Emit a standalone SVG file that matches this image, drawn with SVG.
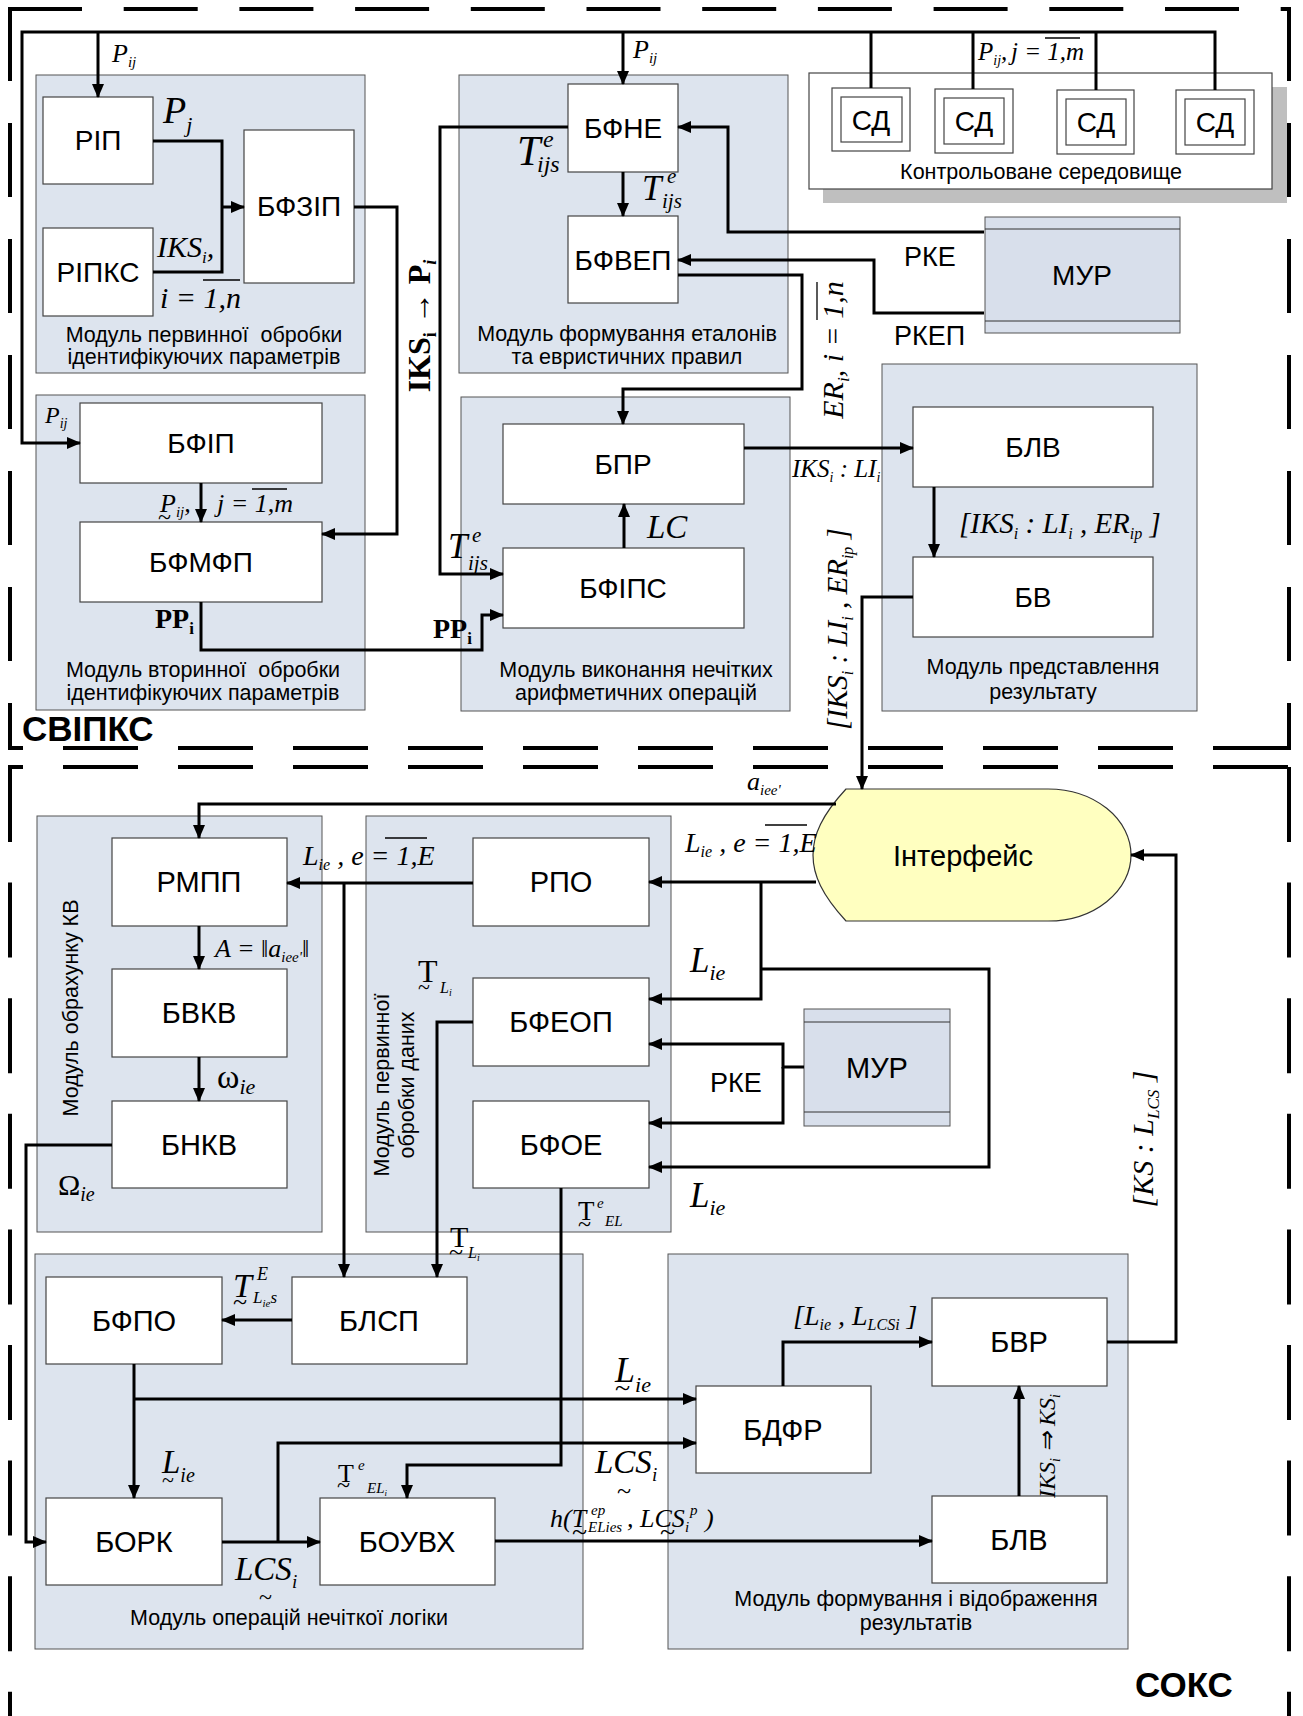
<svg xmlns="http://www.w3.org/2000/svg" width="1303" height="1716" viewBox="0 0 1303 1716">
<defs>
<marker id="ah" markerUnits="userSpaceOnUse" markerWidth="14" markerHeight="12" refX="13" refY="6" orient="auto"><path d="M0,0 L14,6 L0,12 z" fill="#000"/></marker>
</defs>
<style>
.bd{stroke:#000;stroke-width:4;fill:none}
.mod{fill:#dde4ee;stroke:#555;stroke-width:1}
.box{fill:#fff;stroke:#444;stroke-width:1.2}
.mur{fill:#d8dfeb;stroke:#555;stroke-width:1}
.c{fill:none;stroke:#000;stroke-width:3}
.a{marker-end:url(#ah)}
.t{font-family:"Liberation Sans",Arial,sans-serif;text-anchor:middle;fill:#000}
.b28{font-size:28px}
.b29{font-size:29px}
.lab{font-family:"Liberation Sans",Arial,sans-serif;font-size:27px}
.cap{font-family:"Liberation Sans",Arial,sans-serif;font-size:21.5px;text-anchor:middle}
.mi{font-family:"Liberation Serif","Times New Roman",serif;font-style:italic}
.mr{font-family:"Liberation Serif","Times New Roman",serif}
.mb{font-family:"Liberation Serif","Times New Roman",serif;font-weight:bold}
.ol{stroke:#000;stroke-width:1.3}
.big{font-family:"Liberation Sans",Arial,sans-serif;font-weight:bold;font-size:35px}
</style>

<g id="borders" class="bd">
<line x1="8" y1="9" x2="1291" y2="9" stroke-dasharray="74 41.7"/>
<line x1="10" y1="7" x2="10" y2="750" stroke-dasharray="74 42"/>
<line x1="1289" y1="7" x2="1289" y2="750" stroke-dasharray="74 42"/>
<line x1="8" y1="748" x2="1291" y2="748" stroke-dasharray="75 40" stroke-dashoffset="60"/>
<line x1="8" y1="767" x2="1291" y2="767" stroke-dasharray="75 40" stroke-dashoffset="60"/>
<line x1="10" y1="767" x2="10" y2="1716" stroke-dasharray="75 40.6"/>
<line x1="1289" y1="767" x2="1289" y2="1716" stroke-dasharray="75 40.6"/>
</g>
<text class="big" x="22" y="741">СВІПКС</text>
<text class="big" x="1135" y="1697">СОКС</text>

<!-- modules -->
<g id="m1"><rect class="mod" x="36" y="75" width="329" height="298"/><text class="cap" x="204" y="342" xml:space="preserve">Модуль первинної  обробки</text><text class="cap" x="204" y="364">ідентифікуючих параметрів</text></g>
<g id="m2"><rect class="mod" x="459" y="75" width="329" height="298"/><text class="cap" x="627" y="341">Модуль формування еталонів</text><text class="cap" x="627" y="364">та евристичних правил</text></g>
<g id="m3"><rect class="mod" x="36" y="395" width="329" height="315"/><text class="cap" x="203" y="677" xml:space="preserve">Модуль вторинної  обробки</text><text class="cap" x="203" y="700">ідентифікуючих параметрів</text></g>
<g id="m4"><rect class="mod" x="461" y="397" width="329" height="314"/><text class="cap" x="636" y="677">Модуль виконання нечітких</text><text class="cap" x="636" y="700">арифметичних операцій</text></g>
<g id="m5"><rect class="mod" x="882" y="364" width="315" height="347"/><text class="cap" x="1043" y="674">Модуль представлення</text><text class="cap" x="1043" y="699">результату</text></g>
<g id="m6"><rect class="mod" x="37" y="816" width="285" height="416"/><text class="cap" transform="translate(78,1008) rotate(-90)">Модуль обрахунку КВ</text></g>
<g id="m7"><rect class="mod" x="366" y="816" width="305" height="416"/><text class="cap" transform="translate(389,1085) rotate(-90)">Модуль первинної</text><text class="cap" transform="translate(414,1085) rotate(-90)">обробки даних</text></g>
<g id="m8"><rect class="mod" x="35" y="1254" width="548" height="395"/><text class="cap" x="289" y="1625">Модуль операцій нечіткої логіки</text></g>
<g id="m9"><rect class="mod" x="668" y="1254" width="460" height="395"/><text class="cap" x="916" y="1606">Модуль формування і відображення</text><text class="cap" x="916" y="1630">результатів</text></g>

<!-- controlled environment -->
<g id="env">
<rect x="823" y="87" width="464" height="116" fill="#bfbfbf"/>
<rect x="809" y="73" width="463" height="116" fill="#fff" stroke="#444" stroke-width="1.2"/>
<text class="cap" x="1041" y="179">Контрольоване середовище</text>
</g>
<g id="sd1"><rect class="box" x="832" y="88" width="78" height="63"/><rect class="box" x="841" y="97" width="61" height="45" stroke="#222"/><text class="t b28" x="871" y="130">СД</text></g>
<g id="sd2"><rect class="box" x="935" y="89" width="78" height="64"/><rect class="box" x="944" y="98" width="60" height="46" stroke="#222"/><text class="t b28" x="974" y="131">СД</text></g>
<g id="sd3"><rect class="box" x="1057" y="90" width="77" height="64"/><rect class="box" x="1066" y="99" width="60" height="46" stroke="#222"/><text class="t b28" x="1096" y="132">СД</text></g>
<g id="sd4"><rect class="box" x="1176" y="90" width="78" height="64"/><rect class="box" x="1185" y="99" width="60" height="46" stroke="#222"/><text class="t b28" x="1215" y="132">СД</text></g>

<!-- upper blocks -->
<g id="rip"><rect class="box" x="43" y="97" width="110" height="87"/><text class="t b28" x="98" y="150">РІП</text></g>
<g id="ripks"><rect class="box" x="43" y="228" width="110" height="88"/><text class="t b28" x="98" y="282">РІПКС</text></g>
<g id="bfzip"><rect class="box" x="244" y="130" width="110" height="153"/><text class="t b28" x="299" y="216">БФЗІП</text></g>
<g id="bfne"><rect class="box" x="568" y="84" width="110" height="88"/><text class="t b28" x="623" y="138">БФНЕ</text></g>
<g id="bfvep"><rect class="box" x="568" y="216" width="110" height="87"/><text class="t b28" x="623" y="270">БФВЕП</text></g>
<g id="bfip"><rect class="box" x="80" y="403" width="242" height="80"/><text class="t b28" x="201" y="453">БФІП</text></g>
<g id="bfmfp"><rect class="box" x="80" y="522" width="242" height="80"/><text class="t b28" x="201" y="572">БФМФП</text></g>
<g id="bpr"><rect class="box" x="503" y="424" width="241" height="80"/><text class="t b28" x="623" y="474">БПР</text></g>
<g id="bfips"><rect class="box" x="503" y="548" width="241" height="80"/><text class="t b28" x="623" y="598">БФІПС</text></g>
<g id="blv1"><rect class="box" x="913" y="407" width="240" height="80"/><text class="t b28" x="1033" y="457">БЛВ</text></g>
<g id="bv"><rect class="box" x="913" y="557" width="240" height="80"/><text class="t b28" x="1033" y="607">БВ</text></g>
<g id="mur1"><rect class="mur" x="985" y="217" width="195" height="116"/><line x1="985" y1="229" x2="1180" y2="229" stroke="#333"/><line x1="985" y1="321" x2="1180" y2="321" stroke="#333"/><text class="t b28" x="1082" y="285">МУР</text></g>

<!-- lower blocks -->
<g id="interface"><path d="M846,789 H1048 A83,66 0 0 1 1131,855 A83,66 0 0 1 1048,921 H846 C822,895 813,875 813,855 C813,835 822,815 846,789 Z" fill="#ffffc0" stroke="#333" stroke-width="1.2"/><text class="t b29" x="963" y="866">Інтерфейс</text></g>
<g id="rmpp"><rect class="box" x="112" y="838" width="175" height="88"/><text class="t b29" x="199" y="892">РМПП</text></g>
<g id="bvkv"><rect class="box" x="112" y="969" width="175" height="88"/><text class="t b29" x="199" y="1023">БВКВ</text></g>
<g id="bnkv"><rect class="box" x="112" y="1101" width="175" height="87"/><text class="t b29" x="199" y="1155">БНКВ</text></g>
<g id="rpo"><rect class="box" x="473" y="838" width="176" height="88"/><text class="t b29" x="561" y="892">РПО</text></g>
<g id="bfeop"><rect class="box" x="473" y="978" width="176" height="88"/><text class="t b29" x="561" y="1032">БФЕОП</text></g>
<g id="bfoe"><rect class="box" x="473" y="1101" width="176" height="87"/><text class="t b29" x="561" y="1155">БФОЕ</text></g>
<g id="mur2"><rect class="mur" x="804" y="1009" width="146" height="117"/><line x1="804" y1="1022" x2="950" y2="1022" stroke="#333"/><line x1="804" y1="1112" x2="950" y2="1112" stroke="#333"/><text class="t b29" x="877" y="1078">МУР</text></g>
<g id="bfpo"><rect class="box" x="46" y="1277" width="176" height="87"/><text class="t b29" x="134" y="1331">БФПО</text></g>
<g id="blsp"><rect class="box" x="292" y="1277" width="175" height="87"/><text class="t b29" x="379" y="1331">БЛСП</text></g>
<g id="bork"><rect class="box" x="46" y="1498" width="176" height="87"/><text class="t b29" x="134" y="1552">БОРК</text></g>
<g id="bouvh"><rect class="box" x="320" y="1498" width="175" height="87"/><text class="t b29" x="407" y="1552">БОУВХ</text></g>
<g id="bdfr"><rect class="box" x="696" y="1386" width="175" height="87"/><text class="t b29" x="783" y="1440">БДФР</text></g>
<g id="bvr"><rect class="box" x="932" y="1298" width="175" height="88"/><text class="t b29" x="1019" y="1352">БВР</text></g>
<g id="blv2"><rect class="box" x="932" y="1496" width="175" height="87"/><text class="t b29" x="1019" y="1550">БЛВ</text></g>

<!-- connectors -->
<g id="connectors" class="c">
<path class="a" d="M1215,90 V32 H22 V443 H80"/>
<path class="a" d="M98,32 V97"/>
<path class="a" d="M623,32 V84"/>
<path d="M871,32 V88 M973,32 V89 M1096,32 V90"/>
<path d="M153,141 H222 V272 H153"/>
<path class="a" d="M222,207 H244"/>
<path class="a" d="M354,207 H397 V534 H322"/>
<path class="a" d="M568,127 H440 V574 H503"/>
<path class="a" d="M623,172 V216"/>
<path class="a" d="M984,232 H728 V127 H678"/>
<path class="a" d="M984,313 H874 V260 H678"/>
<path class="a" d="M678,275 H802 V389 H623 V424"/>
<path class="a" d="M201,483 V522"/>
<path class="a" d="M201,602 V650 H482 V615 H503"/>
<path class="a" d="M624,548 V504"/>
<path class="a" d="M744,448 H913"/>
<path class="a" d="M934,487 V557"/>
<path class="a" d="M913,597 H862 V789"/>
<path class="a" d="M836,804 H199 V838"/>
<path class="a" d="M199,926 V969"/>
<path class="a" d="M199,1057 V1101"/>
<path class="a" d="M816,882 H649"/>
<path class="a" d="M761,882 V999 H649"/>
<path class="a" d="M761,969 H989 V1167 H649"/>
<path class="a" d="M473,883 H287"/>
<path class="a" d="M344,883 V1277"/>
<path class="a" d="M804,1067 H783 V1044 H649"/>
<path class="a" d="M783,1067 V1123 H649"/>
<path class="a" d="M473,1022 H437 V1277"/>
<path class="a" d="M561,1188 V1465 H407 V1498"/>
<path class="a" d="M112,1145 H26 V1542 H46"/>
<path class="a" d="M292,1320 H222"/>
<path class="a" d="M134,1364 V1498"/>
<path class="a" d="M134,1399 H696"/>
<path class="a" d="M222,1542 H320"/>
<path class="a" d="M278,1542 V1443 H696"/>
<path class="a" d="M495,1541 H932"/>
<path class="a" d="M783,1386 V1342 H932"/>
<path class="a" d="M1019,1496 V1386"/>
<path class="a" d="M1107,1342 H1176 V855 H1131"/>
</g>

<!-- labels -->
<g id="labels" fill="#000">
<text class="mi" x="112" y="62" font-size="26">P<tspan font-size="15" dy="5">ij</tspan></text>
<text class="mi" x="163" y="123" font-size="38">P<tspan font-size="22" dy="9">j</tspan></text>
<text class="mi" x="157" y="257" font-size="30">IKS<tspan font-size="17" dy="6">i</tspan><tspan dy="-6">,</tspan></text>
<text class="mi" x="160" y="308" font-size="30">i = 1,n</text>
<line class="ol" x1="203" y1="280" x2="240" y2="280"/>
<text class="mi" x="633" y="58" font-size="26">P<tspan font-size="15" dy="5">ij</tspan></text>
<text class="mi" x="517" y="165" font-size="42">T<tspan x="543" y="147" font-size="24">e</tspan><tspan x="537" y="172" font-size="24">ijs</tspan></text>
<text class="mi" x="642" y="200" font-size="35">T<tspan x="667" y="183" font-size="21">e</tspan><tspan x="662" y="208" font-size="21">ijs</tspan></text>
<text class="mi" transform="translate(843,350) rotate(-90)" text-anchor="middle" font-size="30">ER<tspan font-size="17" dy="6">i</tspan><tspan dy="-6">, i = 1,n</tspan></text>
<line class="ol" x1="817" y1="282" x2="817" y2="320"/>
<text class="mi" x="978" y="60" font-size="25">P<tspan font-size="14" dy="5">ij</tspan><tspan dy="-5">,</tspan><tspan x="1011" y="60">j = 1,m</tspan></text>
<line class="ol" x1="1045" y1="38" x2="1080" y2="38"/>
<text class="mb" transform="translate(430,326) rotate(-90)" text-anchor="middle" font-size="32">IKS<tspan font-size="18" dy="6">i</tspan><tspan dy="-6"> → P</tspan><tspan font-size="18" dy="6" font-style="italic">i</tspan></text>
<text class="mi" x="45" y="423" font-size="24">P<tspan font-size="14" dy="5">ij</tspan></text>
<text class="mi" x="160" y="512" font-size="26">P<tspan font-size="15" dy="5">ij</tspan><tspan dy="-5">,</tspan><tspan x="158" y="525" font-size="24" font-style="normal">~</tspan><tspan x="217" y="512">j = 1,m</tspan></text>
<line class="ol" x1="252" y1="489" x2="287" y2="489"/>
<text class="mb" x="155" y="628" font-size="28">PP<tspan font-size="17" dy="6">i</tspan></text>
<text class="mb" x="433" y="638" font-size="28">PP<tspan font-size="17" dy="6">i</tspan></text>
<text class="mi" x="448" y="558" font-size="35">T<tspan x="472" y="542" font-size="21">e</tspan><tspan x="468" y="570" font-size="21">ijs</tspan></text>
<text class="mi" x="647" y="538" font-size="33">LC</text>
<text class="mi" x="792" y="477" font-size="25">IKS<tspan font-size="14" dy="5">i</tspan><tspan dy="-5"> : LI</tspan><tspan font-size="14" dy="5">i</tspan></text>
<text class="mi" x="959" y="533" font-size="29">[IKS<tspan font-size="16" dy="6">i</tspan><tspan dy="-6"> : LI</tspan><tspan font-size="16" dy="6">i</tspan><tspan dy="-6"> , ER</tspan><tspan font-size="16" dy="6">ip</tspan><tspan dy="-6"> ]</tspan></text>
<text class="mi" transform="translate(847,629) rotate(-90)" text-anchor="middle" font-size="29">[IKS<tspan font-size="16" dy="6">i</tspan><tspan dy="-6"> : LI</tspan><tspan font-size="16" dy="6">i</tspan><tspan dy="-6"> , ER</tspan><tspan font-size="16" dy="6">ip</tspan><tspan dy="-6"> ]</tspan></text>
<text class="lab" x="904" y="266">РКЕ</text>
<text class="lab" x="894" y="345">РКЕП</text>

<text class="mi" x="747" y="790" font-size="26">a<tspan font-size="15" dy="5">iee'</tspan></text>
<text class="mi" x="685" y="852" font-size="28">L<tspan font-size="16" dy="5">ie</tspan><tspan dy="-5"> , e = 1,E</tspan></text>
<line class="ol" x1="765" y1="825" x2="807" y2="825"/>
<text class="mi" x="303" y="865" font-size="28">L<tspan font-size="16" dy="5">ie</tspan><tspan dy="-5"> , e = 1,E</tspan></text>
<line class="ol" x1="385" y1="838" x2="427" y2="838"/>
<text class="mi" x="215" y="957" font-size="26">A = ‖a<tspan font-size="15" dy="5">iee'</tspan><tspan dy="-5">‖</tspan></text>
<text class="mr" x="217" y="1088" font-size="34">ω<tspan class="mi" font-size="22" dy="6">ie</tspan></text>
<text class="mr" x="58" y="1195" font-size="30">Ω<tspan class="mi" font-size="20" dy="6">ie</tspan></text>
<text class="mr" x="418" y="982" font-size="32">T<tspan x="418" y="994" font-size="22">~</tspan><tspan x="440" y="993" font-size="16" font-style="italic">L</tspan><tspan font-size="10" dy="3" font-style="italic">i</tspan></text>
<text class="mi" x="690" y="972" font-size="35">L<tspan font-size="22" dy="8">ie</tspan></text>
<text class="mi" x="690" y="1207" font-size="35">L<tspan font-size="22" dy="8">ie</tspan></text>
<text class="lab" x="710" y="1092" font-size="28">РКЕ</text>
<text class="mr" x="578" y="1220" font-size="27">T<tspan x="578" y="1232" font-size="24">~</tspan><tspan x="597" y="1208" font-size="15" font-style="italic">e</tspan><tspan x="605" y="1226" font-size="15" font-style="italic">EL</tspan></text>
<text class="mr" x="450" y="1247" font-size="30">T<tspan x="449" y="1260" font-size="26">~</tspan><tspan x="468" y="1258" font-size="16" font-style="italic">L</tspan><tspan font-size="10" dy="3" font-style="italic">i</tspan></text>
<text class="mi" transform="translate(1153,1139) rotate(-90)" text-anchor="middle" font-size="30">[KS : L<tspan font-size="17" dy="6">LCS</tspan><tspan dy="-6"> ]</tspan></text>
<text class="mi" x="233" y="1297" font-size="34">T<tspan x="233" y="1310" font-size="26" font-style="normal">~</tspan><tspan x="257" y="1280" font-size="18">E</tspan><tspan x="253" y="1303" font-size="17">L</tspan><tspan font-size="11" dy="4">ie</tspan><tspan font-size="17" dy="-4">s</tspan></text>
<text class="mi" x="162" y="1473" font-size="33">L<tspan font-size="20" dy="9">ie</tspan><tspan x="162" y="1487" font-size="22" font-style="normal">~</tspan></text>
<text class="mi" x="235" y="1580" font-size="33">LCS<tspan font-size="19" dy="8">i</tspan><tspan x="259" y="1605" font-size="24" font-style="normal">~</tspan></text>
<text class="mr" x="338" y="1482" font-size="26">T<tspan x="337" y="1493" font-size="24">~</tspan><tspan x="358" y="1470" font-size="15" font-style="italic">e</tspan><tspan x="367" y="1493" font-size="15" font-style="italic">EL</tspan><tspan font-size="9" dy="3" font-style="italic">i</tspan></text>
<text class="mi" x="615" y="1382" font-size="36">L<tspan font-size="22" dy="10">ie</tspan><tspan x="615" y="1397" font-size="28" font-style="normal">~</tspan></text>
<text class="mi" x="595" y="1473" font-size="33">LCS<tspan font-size="19" dy="8">i</tspan><tspan x="617" y="1499" font-size="26" font-style="normal">~</tspan></text>
<text class="mi" x="550" y="1527" font-size="26">h(T<tspan x="591" y="1515" font-size="15">ep</tspan><tspan x="588" y="1532" font-size="15">ELies</tspan><tspan x="627" y="1527">, LCS</tspan><tspan x="690" y="1515" font-size="15">p</tspan><tspan x="685" y="1532" font-size="15">i</tspan><tspan x="705" y="1527">)</tspan><tspan x="572" y="1541" font-size="28" font-style="normal">~</tspan><tspan x="660" y="1541" font-size="28" font-style="normal">~</tspan></text>
<text class="mi" x="793" y="1325" font-size="28">[L<tspan font-size="16" dy="5">ie</tspan><tspan dy="-5"> , L</tspan><tspan font-size="16" dy="5">LCSi</tspan><tspan dy="-5"> ]</tspan></text>
<text class="mi" transform="translate(1055,1446) rotate(-90)" text-anchor="middle" font-size="24">IKS<tspan font-size="14" dy="5">i</tspan><tspan dy="-5"> ⇒ KS</tspan><tspan font-size="14" dy="5">i</tspan></text>
</g>
</svg>
